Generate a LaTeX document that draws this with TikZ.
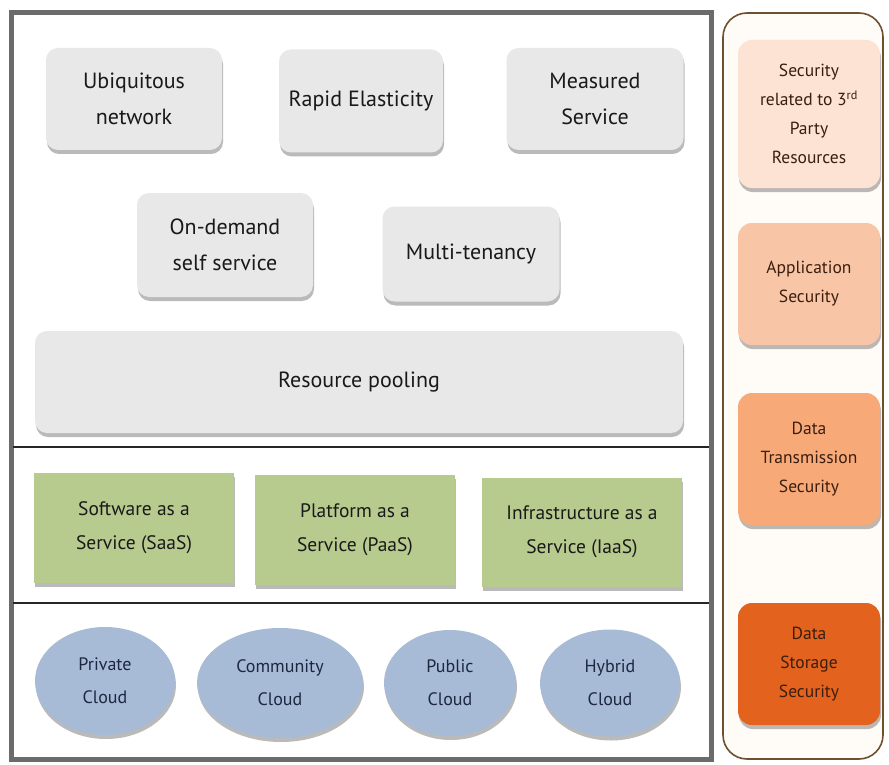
\documentclass[tikz,border=0pt]{standalone}
\usepackage{fontspec}
\setmainfont{PT Sans}
\usetikzlibrary{shadows,shapes.geometric}
\definecolor{frame}{HTML}{6B6B6B}
\definecolor{grayfill}{HTML}{E8E8E8}
\definecolor{greenfill}{HTML}{B7CB8E}
\definecolor{bluefill}{HTML}{A7BBD6}
\definecolor{bluetext}{HTML}{1E2740}
\definecolor{panelline}{HTML}{6E5030}
\definecolor{panelfill}{HTML}{FFFBF6}
\definecolor{secA}{HTML}{FCE3D4}
\definecolor{secB}{HTML}{F8C6A6}
\definecolor{secC}{HTML}{F7A978}
\definecolor{secD}{HTML}{E2621E}
\definecolor{sectext}{HTML}{3A1E10}
\tikzset{
  shade/.style={drop shadow={shadow xshift=1pt,shadow yshift=-4pt,opacity=0.45,fill=black!60}},
  graybox/.style={shade,rectangle,rounded corners=12pt,fill=grayfill,draw=none,align=center,
     font=\fontsize{22}{36}\selectfont,text=black!90},
  greenbox/.style={shade,rectangle,fill=greenfill,draw=none,align=center,
     font=\fontsize{19.5}{34}\selectfont,text=black!90},
  cloud/.style={shade,ellipse,fill=bluefill,draw=none,align=center,
     font=\fontsize{18}{33}\selectfont,text=bluetext},
  secbox/.style={shade,rectangle,rounded corners=14pt,draw=none,align=center,
     font=\fontsize{17.5}{29}\selectfont,text=sectext,minimum width=142pt},
  sep/.style={line width=2.5pt,black!85},
}
\begin{document}
\begin{tikzpicture}[x=1pt,y=-1pt]
\useasboundingbox (0,0) rectangle (889,765);
\fill[white] (0,0) rectangle (889,765);
% main frame
\node[draw=frame,line width=5pt,minimum width=700pt,minimum height=746pt,inner sep=0pt] (mainframe) at (361,386) {};
% separators
\coordinate (s1l) at (13,447); \coordinate (s1r) at (709,447);
\coordinate (s2l) at (13,603); \coordinate (s2r) at (709,603);
\draw[sep] (s1l) -- (s1r);
\draw[sep] (s2l) -- (s2r);
% right panel
\node[draw=panelline,line width=1.6pt,fill=panelfill,rounded corners=24pt,minimum width=160pt,minimum height=746pt,inner sep=0pt] (panel) at (803,386) {};
% gray characteristic boxes
\node[graybox,minimum width=176pt,minimum height=102pt] (ubiq) at (134,99) {Ubiquitous\\network};
\node[graybox,minimum width=164pt,minimum height=103pt] (rapid) at (361,101) {Rapid Elasticity};
\node[graybox,minimum width=177pt,minimum height=102pt] (meas) at (595,99) {Measured\\Service};
\node[graybox,minimum width=176pt,minimum height=104pt] (ondemand) at (225,245) {On-demand\\self service};
\node[graybox,minimum width=177pt,minimum height=95pt] (multi) at (471,254) {Multi-tenancy};
\node[graybox,minimum width=648pt,minimum height=102pt] (pool) at (359,382) {Resource pooling};
% service models
\node[greenbox,minimum width=200pt,minimum height=110pt] (saas) at (134,528) {Software as a\\Service (SaaS)};
\node[greenbox,minimum width=200pt,minimum height=110pt] (paas) at (355,530) {Platform as a\\Service (PaaS)};
\node[greenbox,minimum width=200pt,minimum height=109pt] (iaas) at (582,532) {Infrastructure as a\\Service (IaaS)};
% deployment models
\node[cloud,minimum width=140pt,minimum height=108pt,inner sep=0pt] (priv) at (105,681) {Private\\Cloud};
\node[cloud,minimum width=166pt,minimum height=110pt,inner sep=0pt] (comm) at (280,683) {Community\\Cloud};
\node[cloud,minimum width=132pt,minimum height=106pt,inner sep=0pt] (pub) at (450,683) {Public\\Cloud};
\node[cloud,minimum width=140pt,minimum height=107pt,inner sep=0pt] (hyb) at (610,683) {Hybrid\\Cloud};
% security boxes
\node[secbox,fill=secA,minimum height=148pt] (sec3) at (809,114) {Security\\related to 3\textsuperscript{rd}\\Party\\Resources};
\node[secbox,fill=secB,minimum height=122pt] (appsec) at (809,284) {Application\\Security};
\node[secbox,fill=secC,minimum height=132pt] (transsec) at (809,459) {Data\\Transmission\\Security};
\node[secbox,fill=secD,minimum height=122pt] (storsec) at (809,664) {Data\\Storage\\Security};
\end{tikzpicture}
\end{document}
